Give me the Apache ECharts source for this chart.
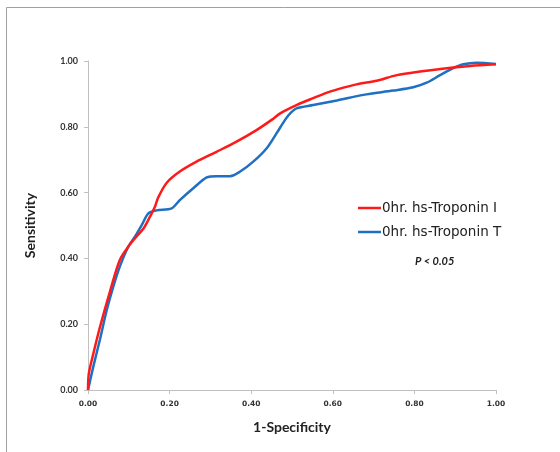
<!DOCTYPE html>
<html>
<head>
<meta charset="utf-8">
<script src="https://cdn.jsdelivr.net/npm/echarts@6/dist/echarts.min.js"></script>
<style>html,body{margin:0;padding:0;background:#fff;}#c{width:560px;height:452px;}</style>
</head>
<body>
<div id="c"></div>
<script>
var seriesNames = ['0hr. hs-Troponin I', '0hr. hs-Troponin T'];
var xTicks = [0, 0.2, 0.4, 0.6, 0.8, 1.0];
var troponinI_x = [0, 0.002, 0.013, 0.029, 0.054, 0.078, 0.099, 0.115, 0.136, 0.152, 0.164, 0.172, 0.193, 0.225, 0.266, 0.315, 0.364, 0.413, 0.450, 0.471, 0.511, 0.552, 0.593, 0.658, 0.708, 0.757, 0.814, 0.879, 0.936, 1.0];
var troponinI_y = [0, 0.05, 0.11, 0.19, 0.30, 0.395, 0.436, 0.461, 0.491, 0.527, 0.557, 0.585, 0.630, 0.664, 0.694, 0.724, 0.755, 0.790, 0.821, 0.841, 0.866, 0.887, 0.907, 0.929, 0.940, 0.957, 0.968, 0.978, 0.985, 0.99];
var troponinT_x = [0, 0.013, 0.029, 0.046, 0.062, 0.078, 0.099, 0.115, 0.132, 0.148, 0.168, 0.205, 0.225, 0.258, 0.291, 0.315, 0.348, 0.373, 0.405, 0.438, 0.462, 0.483, 0.495, 0.511, 0.552, 0.610, 0.675, 0.748, 0.797, 0.830, 0.863, 0.895, 0.920, 0.952, 1.0];
var troponinT_y = [0, 0.071, 0.152, 0.243, 0.314, 0.375, 0.436, 0.466, 0.502, 0.537, 0.546, 0.552, 0.577, 0.613, 0.646, 0.650, 0.650, 0.664, 0.694, 0.735, 0.780, 0.821, 0.840, 0.856, 0.866, 0.880, 0.897, 0.910, 0.920, 0.934, 0.957, 0.978, 0.990, 0.995, 0.991];

function pairs(xs, ys) { return xs.map(function (x, i) { return [x, ys[i]]; }); }

var chart = echarts.init(document.getElementById('c'));
chart.setOption({
  animation: false,
  backgroundColor: '#fff',
  grid: { left: 88, right: 64, top: 61, bottom: 62 },
  xAxis: {
    type: 'value', min: 0, max: 1, interval: 0.2,
    name: '1-Specificity', nameLocation: 'middle', nameGap: 30,
    nameTextStyle: { fontFamily: 'Lato', fontWeight: 'bold', fontSize: 14, color: '#222' },
    axisLine: { show: true, lineStyle: { color: '#c0c0c0', width: 1 } },
    axisTick: { show: true, length: 4, lineStyle: { color: '#c0c0c0' } },
    splitLine: { show: false },
    axisLabel: { margin: 10, fontFamily: 'DejaVu Sans', fontWeight: 'bold', fontSize: 7.5, color: '#333',
      formatter: function (v) { return v.toFixed(2); } }
  },
  yAxis: {
    type: 'value', min: 0, max: 1, interval: 0.2,
    name: 'Sensitivity', nameLocation: 'middle', nameGap: 51,
    nameTextStyle: { fontFamily: 'Lato', fontWeight: 'bold', fontSize: 14, color: '#222' },
    axisLine: { show: true, lineStyle: { color: '#c0c0c0', width: 1 } },
    axisTick: { show: true, length: 4, lineStyle: { color: '#c0c0c0' } },
    splitLine: { show: false },
    axisLabel: { margin: 10, fontFamily: 'Lato', fontWeight: 'bold', fontSize: 9, color: '#333',
      formatter: function (v) { return v.toFixed(2); } }
  },
  legend: {
    orient: 'vertical', left: 358, top: 201, itemGap: 10, padding: 0,
    itemWidth: 23, itemHeight: 2.5, icon: 'rect',
    textStyle: { fontFamily: 'DejaVu Sans', fontSize: 13.5, color: '#222', padding: [0, 0, 0, -4] },
    data: seriesNames
  },
  graphic: [
    { type: 'polyline', silent: true, shape: { points: [[6.5, 452], [6.5, 7.5], [560, 7.5]] },
      style: { stroke: '#a0a0a0', lineWidth: 1, fill: null } },
    { type: 'text', left: 415, top: 256,
      style: { text: 'P < 0.05', fontFamily: 'Lato', fontStyle: 'italic', fontWeight: 'bold', fontSize: 11, fill: '#222' } }
  ],
  series: [
    { name: seriesNames[0], type: 'line', data: pairs(troponinI_x, troponinI_y), smooth: 0.3,
      showSymbol: false, symbol: 'none', lineStyle: { color: '#ff1a1a', width: 2.5 }, itemStyle: { color: '#ff1a1a' }, z: 3 },
    { name: seriesNames[1], type: 'line', data: pairs(troponinT_x, troponinT_y), smooth: 0.3,
      showSymbol: false, symbol: 'none', lineStyle: { color: '#1f6fc2', width: 2.5 }, itemStyle: { color: '#1f6fc2' }, z: 2 }
  ]
});
</script>
</body>
</html>
